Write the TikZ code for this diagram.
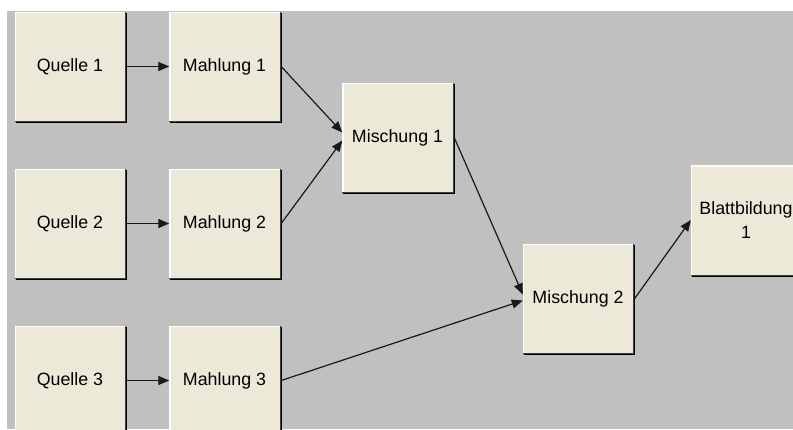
\documentclass[tikz,border=0pt]{standalone}
\usepackage{fontspec}
\setmainfont{Liberation Sans}
\usetikzlibrary{arrows.meta}
\definecolor{boxfill}{HTML}{ECE9D8}
\definecolor{bggray}{HTML}{C0C0C0}
\definecolor{shadowgray}{HTML}{404040}
\tikzset{
  blockbox/.style={fill=boxfill, minimum width=110pt, minimum height=109pt, inner sep=2pt,
    align=center, font=\fontsize{17.8}{23.5}\selectfont, text=black},
  conn/.style={line width=1.2pt, draw=black!90, -{Triangle[length=11pt,width=9pt]}}
}
\newcommand{\bevelbox}[1]{%
  \draw[white, line width=1.5pt] ([xshift=0.75pt]#1.south west) -- ([xshift=0.75pt,yshift=-0.75pt]#1.north west) -- ([yshift=-0.75pt]#1.north east);
  \draw[shadowgray, line width=1pt] ([xshift=0.5pt]#1.north east) -- ([xshift=0.5pt,yshift=-0.5pt]#1.south east) -- ([yshift=-0.5pt]#1.south west);
  \draw[black, line width=1pt] ([xshift=1.5pt,yshift=-1pt]#1.north east) -- ([xshift=1.5pt,yshift=-1.5pt]#1.south east) -- ([xshift=1pt,yshift=-1.5pt]#1.south west);
}
\begin{document}
\begin{tikzpicture}[x=1pt,y=-1pt]
\useasboundingbox (0,0) rectangle (793,429);
\clip (0,0) rectangle (793,429);
\fill[white] (0,0) rectangle (793,429);
\fill[bggray] (7,11) rectangle (793,429);

\node[blockbox] (q1) at (70,66.5) {Quelle 1};
\node[blockbox] (m1) at (224.5,66.5) {Mahlung 1};
\node[blockbox] (q2) at (70,223.5) {Quelle 2};
\node[blockbox] (m2) at (224.5,223.5) {Mahlung 2};
\node[blockbox] (q3) at (70,380.5) {Quelle 3};
\node[blockbox] (m3) at (224.5,380.5) {Mahlung 3};
\node[blockbox] (mi1) at (397.5,137.5) {Mischung 1};
\node[blockbox] (mi2) at (578,298.5) {Mischung 2};
\node[blockbox] (bb) at (746,220) {Blattbildung\\1};

\bevelbox{q1}
\bevelbox{m1}
\bevelbox{q2}
\bevelbox{m2}
\bevelbox{q3}
\bevelbox{m3}
\bevelbox{mi1}
\bevelbox{mi2}
\bevelbox{bb}

\draw[conn] (q1.east) -- (m1.west);
\draw[conn] (q2.east) -- (m2.west);
\draw[conn] (q3.east) -- (m3.west);
\draw[conn] ([xshift=1.5pt]m1.east) -- ([yshift=5pt]mi1.west);
\draw[conn] ([xshift=1.5pt]m2.east) -- ([yshift=-3pt]mi1.west);
\draw[conn] ([xshift=1.5pt]mi1.east) -- ([yshift=4pt]mi2.west);
\draw[conn] ([xshift=1.5pt]m3.east) -- ([yshift=-2pt]mi2.west);
\draw[conn] ([xshift=1.5pt]mi2.east) -- (bb.west);
\end{tikzpicture}
\end{document}
